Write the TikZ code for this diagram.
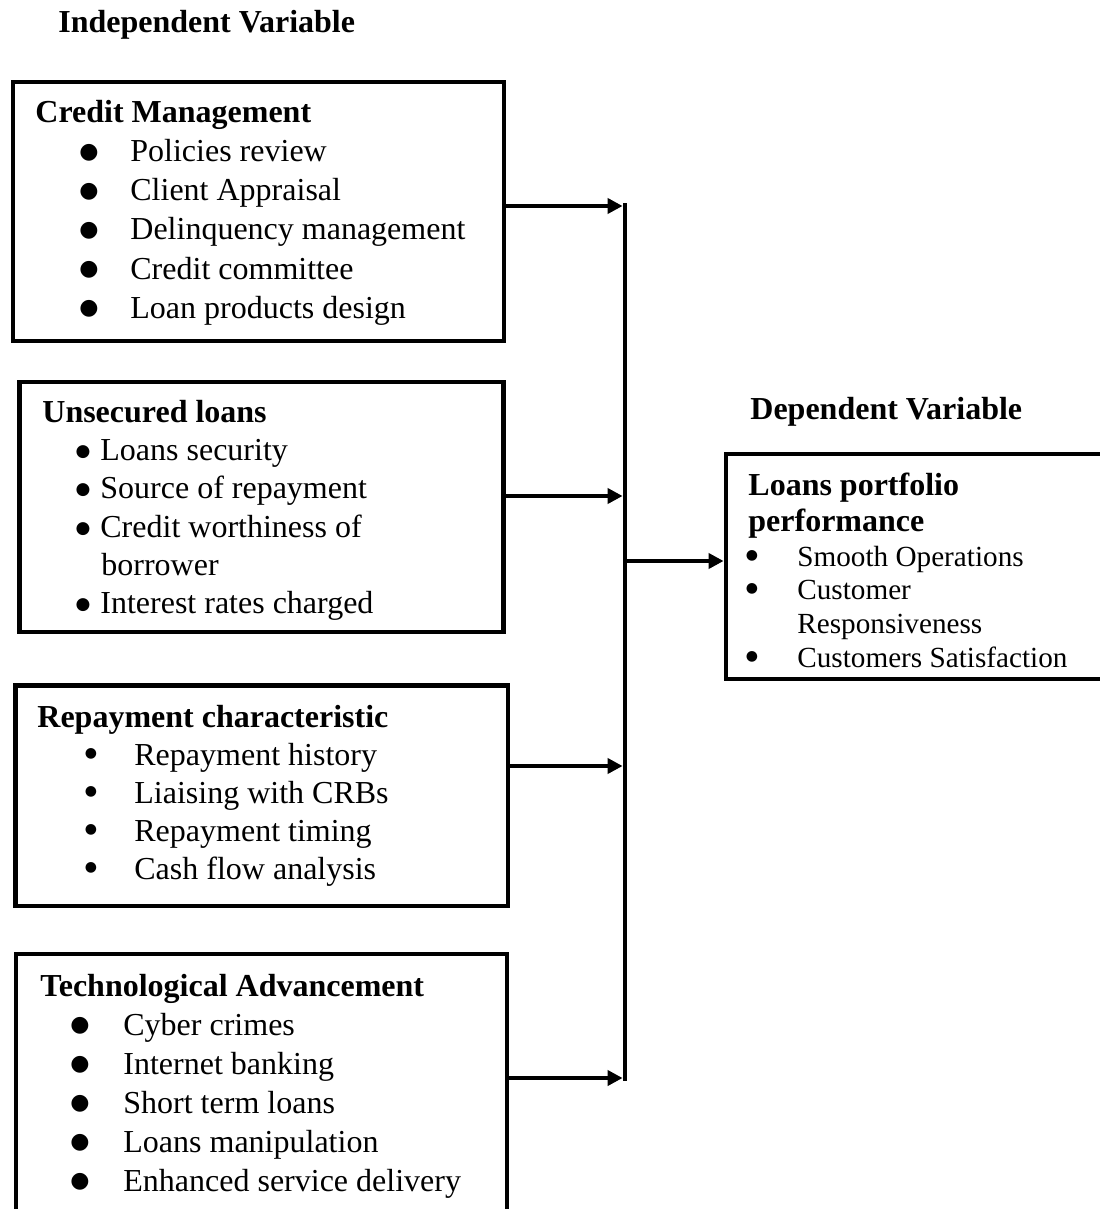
\documentclass[tikz,border=0pt]{standalone}
\usepackage{fontspec}
\setmainfont{Liberation Serif}
\newfontfamily\dejavu{DejaVu Sans}
\usetikzlibrary{arrows.meta}
\begin{document}
\begin{tikzpicture}[x=0.5pt,y=-0.5pt,
  font=\fontsize{16}{19.5}\selectfont,
  box/.style={draw, line width=2.4pt, rectangle, inner sep=0pt, outer sep=0pt, anchor=north west},
  hd/.style={font=\fontsize{16}{19.5}\selectfont\bfseries, anchor=base west, inner sep=0pt},
  itm/.style={anchor=base west, inner sep=0pt},
  itmsm/.style={anchor=base west, inner sep=0pt, font=\fontsize{14.6}{17}\selectfont},
  bulbig/.style={inner sep=0pt, anchor=center, font=\dejavu\fontsize{11}{11}\selectfont},
  bulmid/.style={inner sep=0pt, anchor=center, font=\dejavu\fontsize{8.5}{8.5}\selectfont},
  bulsm/.style={inner sep=0pt, anchor=center, font=\dejavu\fontsize{7}{7}\selectfont},
  conn/.style={line width=2.4pt, -{Triangle[length=7.5pt,width=7.5pt]}},
  bus/.style={line width=2.4pt}
]
\useasboundingbox (0,0) rectangle (1099,1209);

% headings
\node[hd] (indep) at (58,33) {Independent Variable};
\node[hd] (dep) at (750,419) {Dependent Variable};

% boxes
\node[box, minimum width=245.5pt, minimum height=129.5pt] (b1) at (13,82) {};
\node[box, minimum width=242pt, minimum height=125pt] (b2) at (19.5,382) {};
\node[box, minimum width=246.25pt, minimum height=110.25pt] (b3) at (15.5,685.5) {};
\node[box, minimum width=245.5pt, minimum height=143pt] (b4) at (16,954) {};
\node[box, minimum width=197pt, minimum height=112.5pt] (b5) at (726,454) {};

% box 1
\node[hd] (b1h) at (35,123) {Credit Management};
\foreach \t [count=\i] in {Policies review, Client Appraisal, Delinquency management, Credit committee, Loan products design}{
  \node[itm] (b1t\i) at (130,{123+39*\i}) {\t};
  \node[bulbig] (b1b\i) at (89,{123+39*\i-9}) {●};
}

% box 2
\node[hd] (b2h) at (42,422) {Unsecured loans};
\node[itm] (b2t1) at (100,460) {Loans security};
\node[itm] (b2t2) at (100,498) {Source of repayment};
\node[itm] (b2t3) at (100,537) {Credit worthiness of};
\node[itm] (b2t3b) at (101,575) {borrower};
\node[itm] (b2t4) at (100,613) {Interest rates charged};
\node[bulmid] (b2b1) at (83,452) {●};
\node[bulmid] (b2b2) at (83,490) {●};
\node[bulmid] (b2b3) at (83,529) {●};
\node[bulmid] (b2b4) at (83,605) {●};

% box 3
\node[hd] (b3h) at (37,727) {Repayment characteristic};
\foreach \t [count=\i] in {Repayment history, Liaising with CRBs, Repayment timing, Cash flow analysis}{
  \node[itm] (b3t\i) at (134,{727+38*\i}) {\t};
  \node[bulsm] (b3b\i) at (91,{727+38*\i-11}) {●};
}

% box 4
\node[hd] (b4h) at (40,996) {Technological Advancement};
\foreach \t [count=\i] in {Cyber crimes, Internet banking, Short term loans, Loans manipulation, Enhanced service delivery}{
  \node[itm] (b4t\i) at (123,{996+39*\i}) {\t};
  \node[bulbig] (b4b\i) at (80,{996+39*\i-9}) {●};
}

% box 5
\node[hd] (b5h1) at (748,495) {Loans portfolio};
\node[hd] (b5h2) at (748,531) {performance};
\node[itmsm] (b5t1) at (797,566) {Smooth Operations};
\node[itmsm] (b5t2) at (797,599) {Customer};
\node[itmsm] (b5t2b) at (797,633) {Responsiveness};
\node[itmsm] (b5t3) at (797,667) {Customers Satisfaction};
\node[bulsm] (b5b1) at (752,556) {●};
\node[bulsm] (b5b2) at (752,589) {●};
\node[bulsm] (b5b3) at (752,657) {●};

% bus
\coordinate (bt) at (625,203.5);
\coordinate (bb) at (625,1080.5);
\coordinate (j1) at (625,206);
\coordinate (j2) at (625,496);
\coordinate (j3) at (625,766);
\coordinate (j4) at (625,1078);
\coordinate (j5) at (625,561);
\draw[bus] (bt) -- (bb);

\draw[conn] (b1.east |- j1) -- ([xshift=-1.2pt]j1);
\draw[conn] (b2.east |- j2) -- ([xshift=-1.2pt]j2);
\draw[conn] (b3.east |- j3) -- ([xshift=-1.2pt]j3);
\draw[conn] (b4.east |- j4) -- ([xshift=-1.2pt]j4);
\draw[conn, shorten >=1.2pt] (j5) -- (b5.west |- j5);
\end{tikzpicture}
\end{document}
